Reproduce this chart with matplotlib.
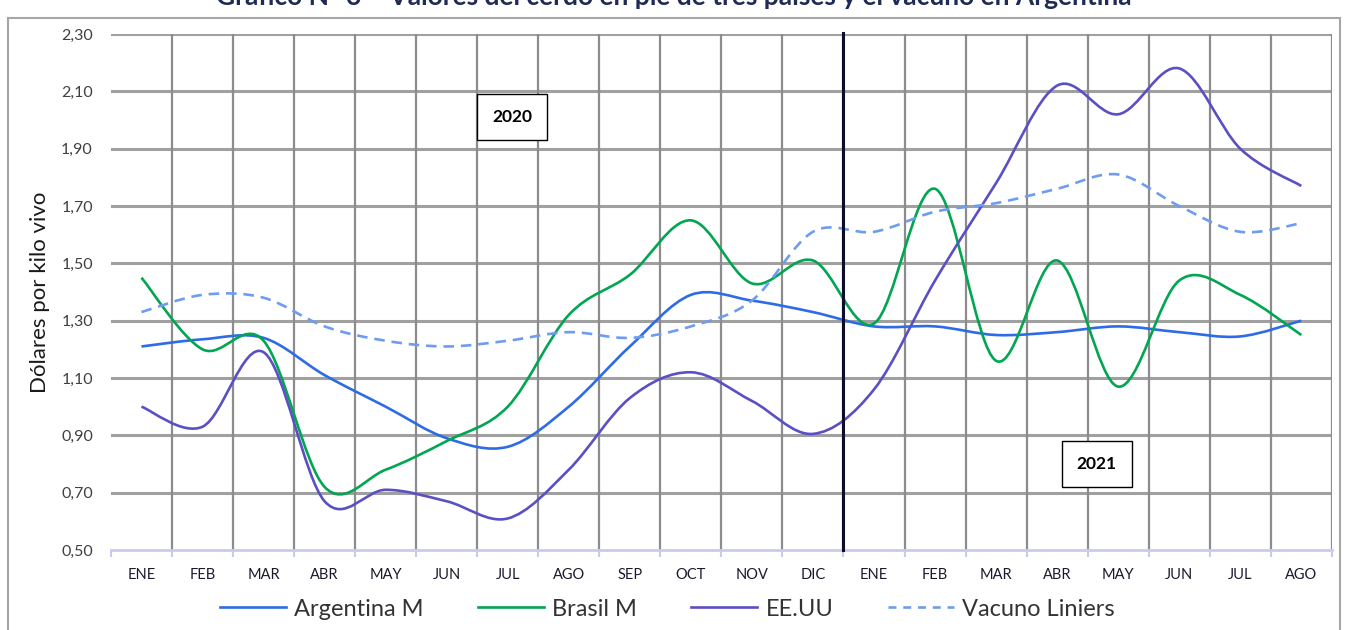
import matplotlib
matplotlib.use('Agg')
import matplotlib.pyplot as plt
from matplotlib.path import Path
from matplotlib.patches import PathPatch, Rectangle
from matplotlib.lines import Line2D
from matplotlib.ticker import FuncFormatter

# Data
meses = ['ENE', 'FEB', 'MAR', 'ABR', 'MAY', 'JUN', 'JUL', 'AGO', 'SEP', 'OCT',
         'NOV', 'DIC', 'ENE', 'FEB', 'MAR', 'ABR', 'MAY', 'JUN', 'JUL', 'AGO']
argentina = [1.21, 1.235, 1.24, 1.11, 1.00, 0.89, 0.86, 1.00, 1.21, 1.39,
             1.37, 1.33, 1.28, 1.28, 1.25, 1.26, 1.28, 1.26, 1.245, 1.30]
brasil = [1.45, 1.20, 1.23, 0.72, 0.78, 0.88, 1.00, 1.32, 1.46, 1.65,
          1.43, 1.51, 1.29, 1.76, 1.16, 1.51, 1.07, 1.44, 1.39, 1.25]
eeuu = [1.00, 0.93, 1.19, 0.67, 0.71, 0.67, 0.61, 0.78, 1.03, 1.12,
        1.02, 0.905, 1.06, 1.44, 1.78, 2.12, 2.02, 2.18, 1.90, 1.77]
vacuno = [1.33, 1.39, 1.38, 1.28, 1.23, 1.21, 1.23, 1.26, 1.24, 1.28,
          1.37, 1.61, 1.61, 1.68, 1.71, 1.76, 1.81, 1.70, 1.61, 1.64]
y_ticks = [0.50, 0.70, 0.90, 1.10, 1.30, 1.50, 1.70, 1.90, 2.10, 2.30]

c_arg = '#2E6BE6'
c_bra = '#00A650'
c_usa = '#5A4FC4'
c_vac = '#6E9CF0'

plt.rcParams['font.family'] = ['Lato', 'DejaVu Sans']


def smooth_path(ys):
    # Excel-style smoothed line: cubic Bezier through every point
    xs = list(range(len(ys)))
    n = len(xs)
    verts = [(xs[0], ys[0])]
    codes = [Path.MOVETO]
    for i in range(n - 1):
        a = i - 1 if i > 0 else i
        d = i + 2 if i + 2 < n else i + 1
        c1 = (xs[i] + (xs[i + 1] - xs[a]) / 6, ys[i] + (ys[i + 1] - ys[a]) / 6)
        c2 = (xs[i + 1] - (xs[d] - xs[i]) / 6, ys[i + 1] - (ys[d] - ys[i]) / 6)
        verts += [c1, c2, (xs[i + 1], ys[i + 1])]
        codes += [Path.CURVE4] * 3
    return Path(verts, codes)


fig = plt.figure(figsize=(13.48, 6.3), dpi=100)
ax = fig.add_axes([0.0823, 0.127, 0.9057, 0.819])

n = len(meses)
ax.set_xlim(-0.5, n - 0.5)
ax.set_ylim(0.5, 2.3)

# grid
for v in y_ticks[1:]:
    ax.axhline(v, color='#A0A0A0', lw=2.2, zorder=1)
for k in range(1, n + 1):
    ax.plot([k - 0.5, k - 0.5], [0.5, 2.3], color='#8C8C8C', lw=1.6, zorder=1)

series = [(argentina, c_arg, '-'), (brasil, c_bra, '-'),
          (eeuu, c_usa, '-'), (vacuno, c_vac, (0, (4, 2.6)))]
for ys, col, ls in series:
    ax.add_patch(PathPatch(smooth_path(ys), fill=False, edgecolor=col,
                           lw=1.9, linestyle=ls, zorder=3,
                           capstyle='butt'))

# year separator
ax.plot([11.5, 11.5], [0.5, 2.305], color='#0D0D2B', lw=2.2, zorder=4,
        clip_on=False)

for s in ['top', 'right', 'left']:
    ax.spines[s].set_visible(False)
ax.spines['bottom'].set_color('#CACAEE')
ax.spines['bottom'].set_linewidth(2)

ax.set_xticks([k - 0.5 for k in range(n + 1)], minor=True)
ax.tick_params(axis='x', which='minor', length=5, width=1.5, color='#CACAEE')
ax.set_xticks(range(n))
ax.set_xticklabels(meses, fontsize=10.5, color='#1A1A2E')
ax.tick_params(axis='x', which='major', length=0, pad=13)

ax.set_yticks(y_ticks)
ax.yaxis.set_major_formatter(FuncFormatter(lambda v, p: f'{v:.2f}'.replace('.', ',')))
ax.tick_params(axis='y', length=0, labelsize=11.5, labelcolor='#404040', pad=13)
ax.set_ylabel('Dólares por kilo vivo', fontsize=16, color='#1A1A1A', labelpad=8)

# year boxes
ax.text(6.07, 2.01, '2020', fontsize=12.5, fontweight='bold', ha='center',
        va='center', zorder=5,
        bbox=dict(boxstyle='square,pad=0.85', fc='white', ec='#000000', lw=1))
ax.text(15.65, 0.80, '2021', fontsize=12.5, fontweight='bold', ha='center',
        va='center', zorder=5,
        bbox=dict(boxstyle='square,pad=0.85', fc='white', ec='#000000', lw=1))

# legend
handles = [Line2D([], [], color=c_arg, lw=1.9),
           Line2D([], [], color=c_bra, lw=1.9),
           Line2D([], [], color=c_usa, lw=1.9),
           Line2D([], [], color=c_vac, lw=1.9, linestyle=(0, (3, 2.6)))]
fig.legend(handles, ['Argentina M', 'Brasil M', 'EE.UU', 'Vacuno Liniers'],
           loc='center', bbox_to_anchor=(0.495, 0.033), ncol=4, frameon=False,
           fontsize=17, handlelength=2.8, handletextpad=0.35,
           columnspacing=2.3, labelcolor='#333333')

# outer frame and (clipped) title
fig.add_artist(Rectangle((8 / 1348, -0.05), 1332 / 1348, 1.021,
                         transform=fig.transFigure, fill=False,
                         ec='#A6A6A6', lw=1.5))
fig.text(0.5, 1.005, 'Gráfico N° 3 – Valores del cerdo en pie de tres países y el vacuno en Argentina',
         ha='center', va='center', fontsize=19, fontweight='bold', color='#1F2A55')

fig.savefig('out.png', dpi=100)
